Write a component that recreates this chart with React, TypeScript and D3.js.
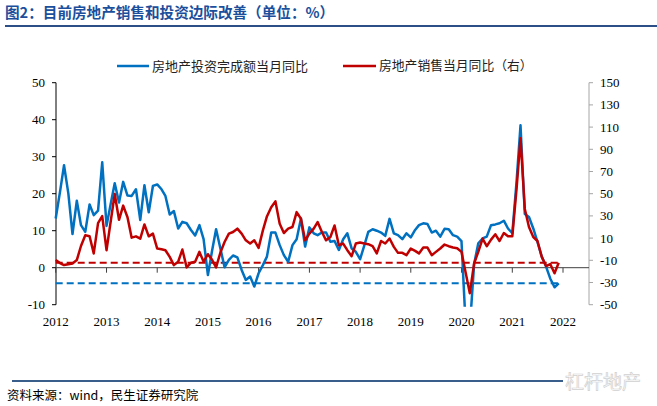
import React from 'react';
import * as d3 from 'd3';

const yearLabels = ['2012', '2013', '2014', '2015', '2016', '2017', '2018', '2019', '2020', '2021', '2022'];
const leftTicks = [-10, 0, 10, 20, 30, 40, 50];
const rightTicks = [-50, -30, -10, 10, 30, 50, 70, 90, 110, 130, 150];

const seriesNames = ['房地产投资完成额当月同比', '房地产销售当月同比（右）'];

// 房地产投资完成额当月同比 (left axis, %)
const investment = [
  13.3, 20.5, 27.7, 20.1, 9.1, 18.1, 11.5, 9.7, 17.1, 14.2, 15.4, 28.5,
  11.3, 17.4, 22.8, 17.6, 23.2, 19.5, 19.4, 21.2, 12.9, 22.3, 15.0, 22.1,
  22.5, 21.2, 19.4, 14.4, 15.3, 10.6, 12.4, 12.0, 10.2, 8.7, 11.5, 7.7,
  -2.0, 4.8, 10.4, 5.2, 0.1, 2.1, 3.3, 2.8, -0.6, -3.3, -2.4, -5.1,
  -1.5, 0.7, 3.0, 9.5, 9.5, 6.1, 3.4, 1.6, 6.1, 7.7, 13.3, 5.7,
  10.9, 9.3, 8.8, 9.5, 9.5, 7.0, 7.2, 4.8, 7.7, 9.3, 5.2, 4.3,
  2.3, 6.1, 9.7, 10.4, 10.0, 9.5, 8.6, 13.2, 9.3, 8.8, 7.7, 9.3,
  8.2, 10.2, 11.5, 12.0, 11.8, 9.5, 10.0, 8.4, 10.5, 10.4, 8.8, 8.4,
  7.2, -16.3, -16.3, 1.0, 6.6, 7.9, 8.4, 11.5, 11.7, 12.0, 12.7, 10.6,
  9.3, 23.5, 38.5, 14.5, 13.7, 10.6, 7.0, 3.0, 0.3, -2.9, -5.3, -4.2,
];

// 房地产销售当月同比 (right axis, %)
const sales = [
  -9.8, -12.5, -14.3, -13.5, -12.8, -9.8, 2.9, 12.5, 11.6, -3.8, 23.5, 29.8,
  -0.9, 25.9, 49.7, 26.5, 39.3, 28.8, 10.4, 11.6, 9.5, 22.3, 11.6, 14.0,
  0.6, 0.0, -0.9, -6.9, -14.3, -11.3, -0.3, -16.4, -12.2, -11.3, -2.4, -11.3,
  -4.5, -9.8, -16.4, -3.0, 6.5, 14.0, 15.5, 18.5, 14.0, 8.0, 5.1, 8.0,
  1.2, 17.0, 29.5, 37.8, 43.1, 22.9, 14.6, 18.5, 20.0, 33.4, 27.4, 8.0,
  14.0, 18.5, 24.4, 15.5, 8.0, 11.0, 21.4, 3.6, 5.1, -0.9, -6.3, 5.1,
  6.0, 5.1, 4.5, 2.7, -3.8, 7.4, 5.1, 9.6, 2.1, -3.3, -3.3, -5.4,
  0.6, -1.5, -3.8, 1.5, 1.5, -5.4, -2.4, 0.6, 4.2, 2.7, 1.5, 0.9,
  -2.4, -21.7, -39.6, -12.8, -2.4, 9.5, 2.7, 8.6, 13.4, 7.4, 14.6, 11.6,
  11.6, 55.0, 100.0, 36.3, 20.0, 11.0, 7.4, -6.9, -15.2, -13.4, -21.7, -12.2,
];

const months = investment.map((_, i) => new Date(2012, i, 1));

const BLUE = '#0070C0';
const RED = '#C00000';
const CJK = '"Noto Sans CJK SC", "Noto Sans", sans-serif';
const NUM = '"Liberation Serif", "Times New Roman", serif';

export default function App() {
  const W = 657;
  const H = 406;
  const plotL = 56;
  const plotR = 589;
  const plotT = 82.7;
  const plotB = 304.7;

  const x = d3
    .scaleTime()
    .domain([new Date(2012, 0, 1), new Date(2022, 0, 1)])
    .range([55.7, 563]);
  const yL = d3.scaleLinear().domain([-10, 50]).range([plotB, plotT]);
  const yR = d3.scaleLinear().domain([-50, 150]).range([plotB, plotT]);

  const lineL = d3
    .line<number>()
    .x((_, i) => x(months[i]))
    .y((d) => yL(d));
  const lineR = d3
    .line<number>()
    .x((_, i) => x(months[i]))
    .y((d) => yR(d));

  const lastInv = investment[investment.length - 1];
  const lastSales = sales[sales.length - 1];
  const x0 = x(months[0]);
  const x1 = x(months[months.length - 1]);
  const zeroY = yL(0);

  return (
    <svg
      width={W}
      height={H}
      viewBox={`0 0 ${W} ${H}`}
      style={{ position: 'absolute', left: 0, top: 0, background: '#fff' }}
    >
      <rect x={0} y={0} width={W} height={H} fill="#fff" />
      <defs>
        <clipPath id="plotClip">
          <rect x={plotL - 2} y={plotT - 4} width={plotR - plotL + 4} height={plotB - plotT + 6} />
        </clipPath>
      </defs>

      {/* Title */}
      <text x={5} y={18} fontFamily={CJK} fontWeight={700} fontSize={14.6} fill="#1B4F9C">
        图2：目前房地产销售和投资边际改善（单位：%）
      </text>
      <line x1={5} x2={W} y1={26} y2={26} stroke="#2B4F86" strokeWidth={2} />

      {/* Legend */}
      <line x1={117} x2={149} y1={66} y2={66} stroke={BLUE} strokeWidth={2.5} />
      <text x={152} y={66} dy="0.35em" fontFamily={CJK} fontSize={13} fill="#222">
        {seriesNames[0]}
      </text>
      <line x1={343} x2={376} y1={66} y2={66} stroke={RED} strokeWidth={2.5} />
      <text x={379} y={66} dy="0.35em" fontFamily={CJK} fontSize={12.8} fill="#222">
        {seriesNames[1]}
      </text>

      {/* Left axis */}
      <line x1={plotL} x2={plotL} y1={plotT} y2={plotB} stroke="#000" strokeWidth={1} />
      {leftTicks.map((t) => (
        <g key={`l${t}`}>
          <line x1={plotL - 4} x2={plotL} y1={yL(t)} y2={yL(t)} stroke="#000" />
          <text
            x={45}
            y={yL(t)}
            dy="0.35em"
            textAnchor="end"
            fontFamily={NUM}
            fontSize={13}
            fill="#000"
          >
            {t}
          </text>
        </g>
      ))}

      {/* Right axis */}
      <line x1={plotR} x2={plotR} y1={plotT} y2={plotB} stroke="#A6A6A6" strokeWidth={1} />
      {rightTicks.map((t) => (
        <g key={`r${t}`}>
          <line x1={plotR} x2={plotR + 4} y1={yR(t)} y2={yR(t)} stroke="#A6A6A6" />
          <text x={600} y={yR(t)} dy="0.35em" fontFamily={NUM} fontSize={13} fill="#000">
            {t}
          </text>
        </g>
      ))}

      {/* X axis at zero */}
      <line x1={plotL} x2={plotR} y1={zeroY} y2={zeroY} stroke="#404040" strokeWidth={1} />
      {yearLabels.map((yr) => {
        const xx = x(new Date(+yr, 0, 1));
        return (
          <g key={yr}>
            <line x1={xx} x2={xx} y1={zeroY} y2={zeroY + 5} stroke="#404040" />
            <text
              x={xx}
              y={326}
              textAnchor="middle"
              fontFamily={NUM}
              fontSize={13}
              fill="#000"
            >
              {yr}
            </text>
          </g>
        );
      })}

      {/* Reference dashed lines at latest values */}
      <line
        x1={x0}
        x2={x1}
        y1={yR(lastSales)}
        y2={yR(lastSales)}
        stroke={RED}
        strokeWidth={2}
        strokeDasharray="7,4"
      />
      <line
        x1={x0}
        x2={x1}
        y1={yL(lastInv)}
        y2={yL(lastInv)}
        stroke={BLUE}
        strokeWidth={2}
        strokeDasharray="7,4"
      />

      {/* Series */}
      <g clipPath="url(#plotClip)">
        <path d={lineL(investment) || ''} fill="none" stroke={BLUE} strokeWidth={2.5} strokeLinejoin="round" />
        <path d={lineR(sales) || ''} fill="none" stroke={RED} strokeWidth={2.5} strokeLinejoin="round" />
      </g>

      {/* Footer */}
      <line x1={12} x2={563} y1={381} y2={381} stroke="#3A5E8C" strokeWidth={2} />
      <text
        x={565}
        y={389}
        fontFamily={CJK}
        fontSize={19}
        fontWeight={400}
        fill="#fff"
        stroke="#D0D0D0"
        strokeWidth={0.7}
      >
        杠杆地产
      </text>
      <text x={7} y={400} fontFamily={CJK} fontSize={12.5} fill="#000">
        资料来源：wind，民生证券研究院
      </text>
    </svg>
  );
}
